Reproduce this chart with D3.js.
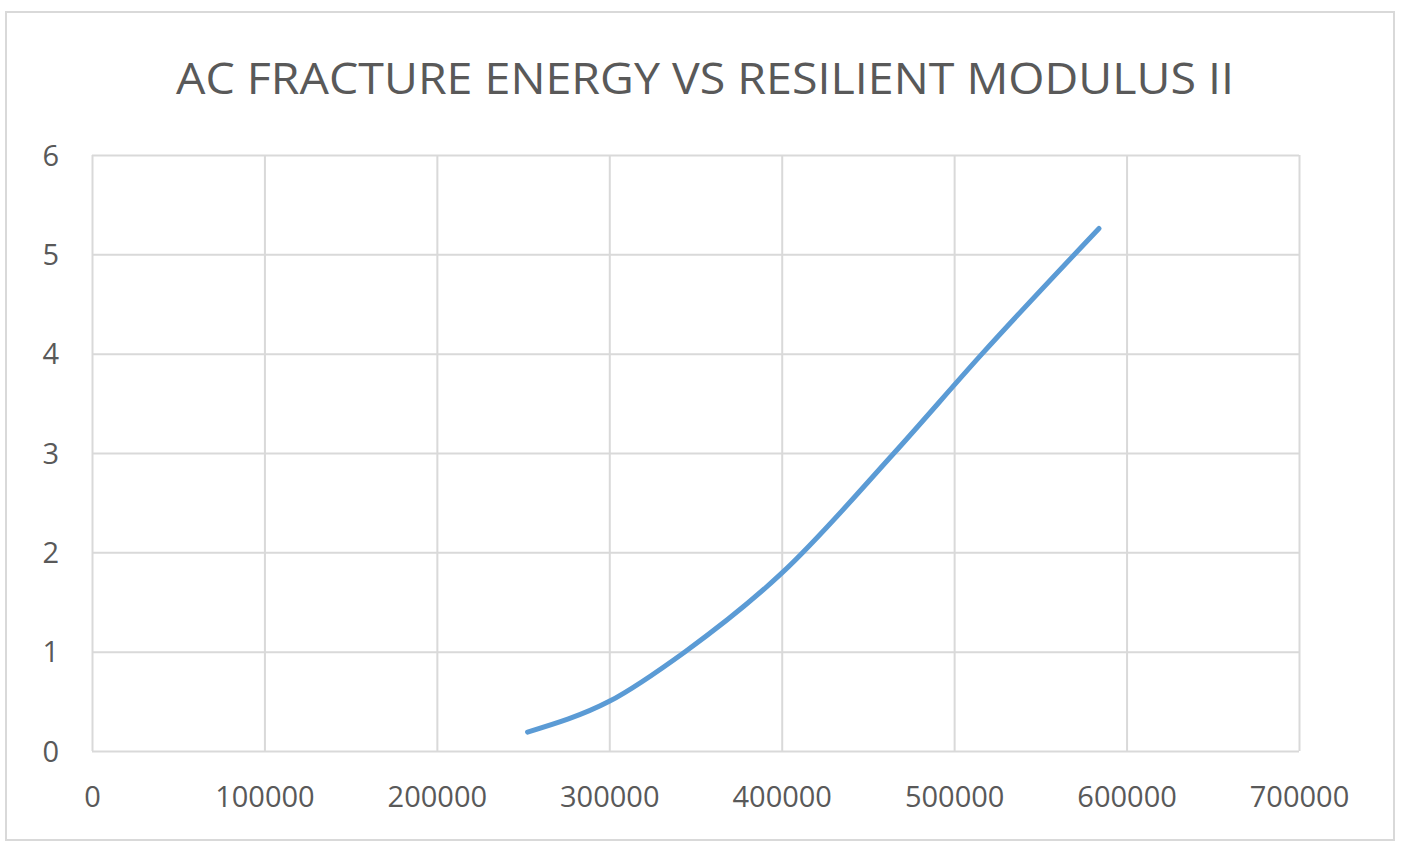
<!DOCTYPE html>
<html>
<head>
<meta charset="utf-8">
<script src="https://cdn.jsdelivr.net/npm/d3@7"></script>
<style>
    body { margin: 0; background: #ffffff; }
    text { font-family: "Open Sans", sans-serif; fill: #595959; }
</style>
</head>
<body>
<svg></svg>
<script>
// values
var modulus = [252600, 300000, 344000, 400000, 465200, 516300, 584000];
var energy = [0.19, 0.50, 1.0, 1.79, 3.0, 4.0, 5.26];
var xTicks = [0, 100000, 200000, 300000, 400000, 500000, 600000, 700000];
var yTicks = [0, 1, 2, 3, 4, 5, 6];
var title = "AC FRACTURE ENERGY VS RESILIENT MODULUS II";

var screen = {width: 1402, height: 857};
var margins = {top: 155, right: 103, bottom: 106, left: 92};

var setup = function()
{
    var svg = d3.select("svg")
        .attr("width", screen.width)
        .attr("height", screen.height);

    // chart frame
    svg.append("rect")
        .attr("x", 6)
        .attr("y", 12)
        .attr("width", 1388)
        .attr("height", 828)
        .attr("fill", "white")
        .attr("stroke", "#d9d9d9")
        .attr("stroke-width", 2);

    svg.append("text")
        .attr("x", 705)
        .attr("y", 94)
        .attr("text-anchor", "middle")
        .attr("font-size", 44)
        .attr("textLength", 1058)
        .attr("lengthAdjust", "spacingAndGlyphs")
        .text(title);

    var width = screen.width - margins.left - margins.right;
    var height = screen.height - margins.top - margins.bottom;

    var xScale = d3.scaleLinear()
                    .domain([0, 700000])
                    .range([0, width]);

    var yScale = d3.scaleLinear()
                    .domain([0, 6])
                    .range([height, 0]);

    var graph = svg.append("g")
        .attr("id", "graph1")
        .attr("transform", "translate(" + margins.left + "," + margins.top + ")");

    var xAxis = d3.axisBottom(xScale)
        .tickValues(xTicks)
        .tickSize(-height)
        .tickPadding(35)
        .tickFormat(d3.format("d"));

    var yAxis = d3.axisLeft(yScale)
        .tickValues(yTicks)
        .tickSize(-width)
        .tickPadding(33)
        .tickFormat(d3.format("d"));

    graph.append("g")
        .attr("id", "xAxis")
        .attr("transform", "translate(0," + height + ")")
        .call(xAxis);

    graph.append("g")
        .attr("id", "yAxis")
        .call(yAxis);

    graph.selectAll(".domain").remove();
    graph.selectAll(".tick line")
        .attr("stroke", "#d9d9d9")
        .attr("stroke-width", 2);
    graph.selectAll(".tick text")
        .attr("font-size", 29)
        .attr("fill", "#595959")
        .attr("font-family", "Open Sans, sans-serif");
    graph.selectAll("#yAxis .tick text").attr("dy", "0.35em");

    draw(graph, xScale, yScale);
}

var draw = function(graph, xScale, yScale)
{
    var points = modulus.map(function(m, i) { return [m, energy[i]]; });

    var lineGenerator = d3.line()
        .x(function(p){return xScale(p[0])})
        .y(function(p){return yScale(p[1])})
        .curve(d3.curveMonotoneX);

    graph.append("path")
        .datum(points)
        .attr("fill", "none")
        .attr("stroke", "#5b9bd5")
        .attr("stroke-width", 5)
        .attr("stroke-linecap", "round")
        .attr("d", lineGenerator);
}

setup();
</script>
</body>
</html>
